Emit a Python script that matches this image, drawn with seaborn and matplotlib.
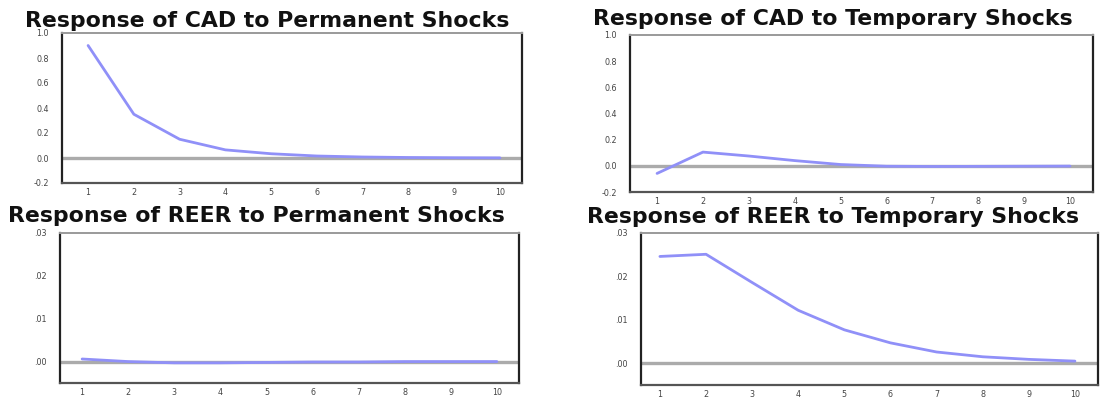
import numpy as np
import pandas as pd
import matplotlib.pyplot as plt
import seaborn as sns

# Impulse responses (periods 1..10)
periods = list(range(1, 11))
cad_permanent = [0.90, 0.35, 0.15, 0.065, 0.034, 0.016, 0.008, 0.004, 0.002, 0.001]
cad_temporary = [-0.058, 0.105, 0.075, 0.040, 0.010, -0.003, -0.005, -0.004, -0.003, -0.002]
reer_permanent = [0.0006, 0.0000, -0.0003, -0.0003, -0.0002, -0.0001, -0.0001, 0.0, 0.0, 0.0]
reer_temporary = [0.0246, 0.0251, 0.0186, 0.0122, 0.0077, 0.0047, 0.0026, 0.0015, 0.0009, 0.0005]

titles = [
    "Response of CAD to Permanent Shocks",
    "Response of CAD to Temporary Shocks",
    "Response of REER to Permanent Shocks",
    "Response of REER to Temporary Shocks",
]
cad_ticks = [-0.2, 0.0, 0.2, 0.4, 0.6, 0.8, 1.0]
cad_ticklabels = ["-0.2", "0.0", "0.2", "0.4", "0.6", "0.8", "1.0"]
reer_ticks = [0.0, 0.01, 0.02, 0.03]
reer_ticklabels = [".00", ".01", ".02", ".03"]

df = pd.DataFrame({
    "period": periods,
    "cad_perm": cad_permanent,
    "cad_temp": cad_temporary,
    "reer_perm": reer_permanent,
    "reer_temp": reer_temporary,
})

sns.set_style("white")
plt.rcParams["font.family"] = ["DejaVu Sans"]

W, H = 1108, 400
fig = plt.figure(figsize=(W / 100, H / 100), dpi=100)

# panel frames in pixels: (left, right, top, bottom)
frames = [(62, 522, 33, 183), (630, 1093, 35, 192), (60, 519, 233, 383), (641, 1098, 233, 385)]
xlims = [(0.43, 10.48), (0.41, 10.5), (0.52, 10.48), (0.59, 10.5)]
# title centre x and baseline y in pixels
title_pos = [(267, 27), (833, 25), (256, 222), (833, 223)]
columns = ["cad_perm", "cad_temp", "reer_perm", "reer_temp"]
line_color = "#9090f8"

for i, col in enumerate(columns):
    l, r, t, b = frames[i]
    ax = fig.add_axes([l / W, 1 - b / H, (r - l) / W, (b - t) / H])
    ax.axhline(0, color="#ababab", lw=2.4, zorder=1)
    sns.lineplot(data=df, x="period", y=col, ax=ax, color=line_color, lw=2.0, zorder=2)

    ax.set_xlim(*xlims[i])
    ax.set_xticks(periods)
    ax.set_xticklabels([str(p) for p in periods])
    ax.set_xticks([p + 0.5 for p in periods[:-1]], minor=True)
    ax.tick_params(axis="x", which="major", length=0, labelsize=5.8, labelcolor="#444444", pad=3.5)
    ax.tick_params(axis="x", which="minor", length=2.5, width=0.8, color="#333333", direction="out")

    if i < 2:
        ax.set_ylim(-0.2, 1.0)
        ax.set_yticks(cad_ticks)
        ax.set_yticklabels(cad_ticklabels)
    else:
        ax.set_ylim(-0.005, 0.03)
        ax.set_yticks(reer_ticks)
        ax.set_yticklabels(reer_ticklabels)
    ax.tick_params(axis="y", length=2.5, width=0.8, color="#333333", direction="out",
                   labelsize=5.8, labelcolor="#444444", pad=7)

    ax.set_xlabel("")
    ax.set_ylabel("")
    for side in ["left", "right"]:
        ax.spines[side].set_color("#222222")
        ax.spines[side].set_linewidth(1.6)
    ax.spines["top"].set_color("#9a9a9a")
    ax.spines["top"].set_linewidth(1.4)
    ax.spines["bottom"].set_color("#555555")
    ax.spines["bottom"].set_linewidth(1.6)

    tx, ty = title_pos[i]
    fig.text(tx / W, 1 - ty / H, titles[i], ha="center", va="baseline",
             fontsize=15.8, fontweight="bold", color="#111111")

plt.savefig("out.png", dpi=100)
